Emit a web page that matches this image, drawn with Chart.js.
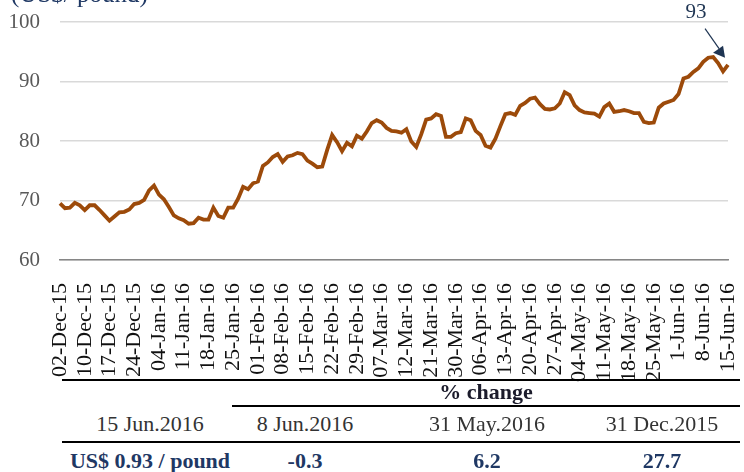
<!DOCTYPE html>
<html>
<head>
<meta charset="utf-8">
<script src="https://cdn.jsdelivr.net/npm/chart.js@4.4.0/dist/chart.umd.min.js"></script>
<style>
  html, body { margin: 0; padding: 0; background: #fff; }
  body { width: 744px; height: 472px; position: relative; overflow: hidden; font-family: "Liberation Serif", serif; }
  #wrap { position: absolute; left: 0; top: 0; width: 744px; height: 390px; }
  .unit { position: absolute; left: 11px; top: -18px; font-size: 25px; line-height: 24px; color: #1f3864; white-space: nowrap; }
  .cell { position: absolute; white-space: nowrap; transform: translate(-50%, -50%); font-size: 22px; }
  .rule { position: absolute; height: 2px; background: #000; }
</style>
</head>
<body>
<div id="wrap"><canvas id="chart-rate" width="744" height="390"></canvas></div>
<div class="unit">(US$/ pound)</div>
<div id="table"></div>
<script>
// tick labels on the x axis, one every 5 points
const tickLabels = ['02-Dec-15', '10-Dec-15', '17-Dec-15', '24-Dec-15', '04-Jan-16', '11-Jan-16', '18-Jan-16',
  '25-Jan-16', '01-Feb-16', '08-Feb-16', '15-Feb-16', '22-Feb-16', '29-Feb-16', '07-Mar-16', '12-Mar-16',
  '21-Mar-16', '30-Mar-16', '06-Apr-16', '13-Apr-16', '20-Apr-16', '27-Apr-16', '04-May-16', '11-May-16',
  '18-May-16', '25-May-16', '1-Jun-16', '8-Jun-16', '15-Jun-16'];

// US$ / pound
const priceValues = [
  69.5, 68.7, 68.8, 69.6, 69.2, 68.4, 69.2, 69.2, 68.4, 67.5,
  66.6, 67.3, 68.0, 68.1, 68.5, 69.4, 69.6, 70.1, 71.7, 72.5,
  71.0, 70.2, 68.9, 67.5, 67.0, 66.7, 66.1, 66.2, 67.1, 66.8,
  66.8, 68.8, 67.4, 67.1, 68.8, 68.8, 70.3, 72.3, 71.9, 72.9,
  73.2, 75.8, 76.4, 77.3, 77.8, 76.5, 77.4, 77.6, 78.0, 77.8,
  76.7, 76.2, 75.6, 75.7, 78.5, 81.0, 79.8, 78.3, 79.7, 79.1,
  80.9, 80.4, 81.6, 83.0, 83.5, 83.1, 82.2, 81.7, 81.6, 81.4,
  82.0, 79.9, 79.0, 81.1, 83.6, 83.8, 84.5, 84.2, 80.7, 80.7,
  81.3, 81.5, 83.8, 83.5, 81.7, 81.0, 79.2, 78.9, 80.4, 82.5,
  84.5, 84.7, 84.4, 85.9, 86.4, 87.1, 87.3, 86.2, 85.4, 85.3,
  85.5, 86.3, 88.2, 87.7, 86.0, 85.2, 84.8, 84.7, 84.6, 84.1,
  85.7, 86.3, 84.9, 85.0, 85.2, 85.0, 84.7, 84.7, 83.2, 83.0,
  83.1, 85.6, 86.3, 86.6, 86.9, 87.9, 90.5, 90.8, 91.6, 92.2,
  93.3, 94.0, 94.1, 93.1, 91.7, 92.8
];
const tickEvery = 5;

const yTicks = [60, 70, 80, 90, 100];
const calloutText = '93';

// table under the chart
const currentDate = '15 Jun.2016';
const currentPrice = 'US$ 0.93 / pound';
const changeDates = ['8 Jun.2016', '31 May.2016', '31 Dec.2015'];
const changeValues = ['-0.3', '6.2', '27.7'];

const labels = priceValues.map((v, i) => (i % tickEvery === 0 ? tickLabels[i / tickEvery] : ''));

// arrow + "93" near the last peak
const calloutPlugin = {
  id: 'callout',
  afterDatasetsDraw(chart) {
    const { ctx, scales } = chart;
    const tipX = scales.x.getPixelForValue(134) + 2;
    const tipY = scales.y.getPixelForValue(94);
    ctx.save();
    ctx.strokeStyle = '#1f3553';
    ctx.fillStyle = '#1f3553';
    ctx.lineWidth = 1.2;
    ctx.beginPath();
    ctx.moveTo(tipX - 20, tipY - 29);
    ctx.lineTo(tipX - 6, tipY - 9);
    ctx.stroke();
    ctx.beginPath();
    ctx.moveTo(tipX, tipY);
    ctx.lineTo(tipX - 12, tipY - 5);
    ctx.lineTo(tipX - 2, tipY - 12);
    ctx.closePath();
    ctx.fill();
    ctx.font = '21px "Liberation Serif"';
    ctx.textAlign = 'center';
    ctx.textBaseline = 'middle';
    ctx.fillText(calloutText, tipX - 29, tipY - 45);
    ctx.restore();
  }
};

const canvas = document.getElementById('chart-rate');
new Chart(canvas, {
  type: 'line',
  data: {
    labels: labels,
    datasets: [{
      data: priceValues,
      borderColor: '#9c4a0a',
      borderWidth: 3.8,
      pointRadius: 0,
      tension: 0,
      fill: false
    }]
  },
  options: {
    responsive: false,
    animation: false,
    devicePixelRatio: 1,
    layout: { padding: { top: 22, right: 16, left: 0, bottom: 0 } },
    plugins: { legend: { display: false }, tooltip: { enabled: false } },
    scales: {
      x: {
        type: 'category',
        offset: false,
        grid: { display: false },
        border: { display: true, color: '#868686', width: 1.5 },
        ticks: {
          autoSkip: false,
          maxRotation: 90,
          minRotation: 90,
          padding: 15,
          color: '#111',
          font: { family: 'Liberation Serif', size: 22 }
        },
        afterFit: (s) => { s.height = 130; s.paddingLeft = 0; s.paddingRight = 0; }
      },
      y: {
        min: yTicks[0],
        max: yTicks[yTicks.length - 1],
        afterBuildTicks: (s) => { s.ticks = yTicks.map((v) => ({ value: v })); },
        grid: { color: '#d9d9d9', lineWidth: 1.5, drawTicks: false },
        border: { display: false },
        ticks: {
          padding: 20,
          color: '#595959',
          font: { family: 'Liberation Serif', size: 21 }
        },
        afterFit: (s) => { s.width = 60; s.paddingTop = 0; s.paddingBottom = 0; }
      }
    }
  },
  plugins: [calloutPlugin]
});

// table
const table = document.getElementById('table');
function addCell(text, x, y, bold, color) {
  const d = document.createElement('div');
  d.className = 'cell';
  d.textContent = text;
  d.style.left = x + 'px';
  d.style.top = y + 'px';
  d.style.fontWeight = bold ? 'bold' : 'normal';
  d.style.color = color;
  table.appendChild(d);
}
function addRule(x1, x2, y) {
  const d = document.createElement('div');
  d.className = 'rule';
  d.style.left = x1 + 'px';
  d.style.width = (x2 - x1) + 'px';
  d.style.top = y + 'px';
  table.appendChild(d);
}
const colX = [150, 305, 487, 662];
addRule(62, 740, 379);
addCell('% change', 486, 392, true, '#1b1b2b');
addRule(232, 740, 405);
addCell(currentDate, colX[0], 424, false, '#333');
changeDates.forEach((t, i) => addCell(t, colX[i + 1], 424, false, '#333'));
addRule(62, 740, 441);
addCell(currentPrice, colX[0], 461, true, '#1f3864');
changeValues.forEach((t, i) => addCell(t, colX[i + 1], 461, true, '#1f3864'));
</script>
</body>
</html>
